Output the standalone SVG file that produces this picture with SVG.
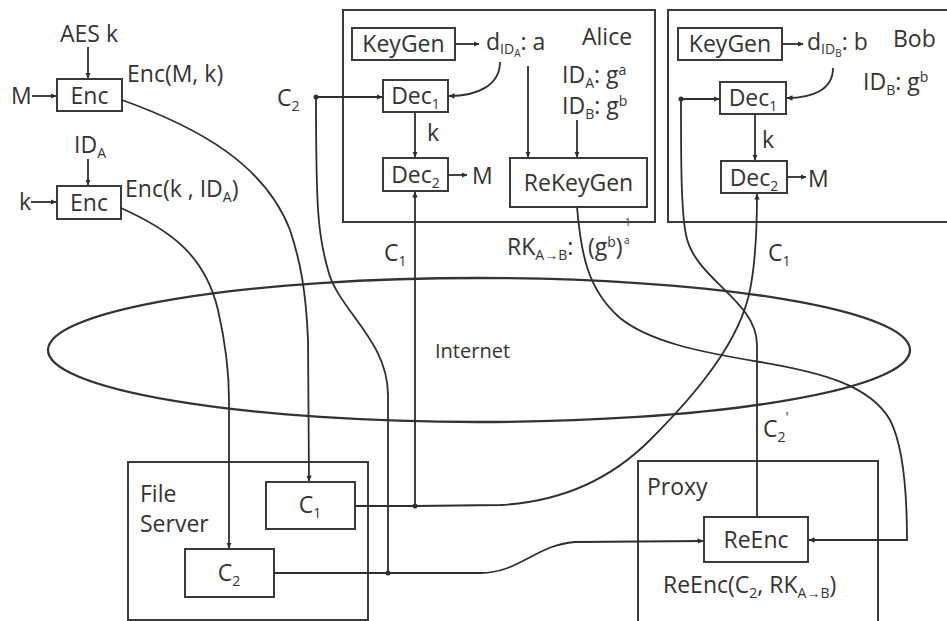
<svg xmlns="http://www.w3.org/2000/svg" width="947" height="621" viewBox="0 0 947 621">
<style>
.box{fill:none;stroke:#3a3a3a;stroke-width:2}
.ln{fill:none;stroke:#2e2e2e;stroke-width:1.8}
.t{font-family:"Open Sans","Noto Sans",sans-serif;font-size:23px;fill:#333}
.c{text-anchor:middle}
.s{font-size:14px}
.tiny{font-size:10px}
.inet{font-size:20px}
.dot{fill:#2e2e2e}
</style>
<defs>
<marker id="a" viewBox="0 0 6 6" refX="5.5" refY="3" markerWidth="6" markerHeight="6" markerUnits="userSpaceOnUse" orient="auto"><path d="M0,0.3 L6,3 L0,5.7 z" fill="#2e2e2e"/></marker>
</defs>
<rect width="947" height="621" fill="#fff"/>

<g id="internet">
<ellipse cx="479" cy="350" rx="431" ry="72" fill="none" stroke="#333" stroke-width="2.3"/>
<text class="t inet" x="435" y="358">Internet</text>
</g>

<g id="enc1">
<text class="t" x="60" y="42">AES k</text>
<text class="t" x="11" y="104">M</text>
<rect class="box" x="57" y="79" width="65" height="32"/>
<text class="t c" x="89.5" y="104">Enc</text>
<text class="t" x="127" y="82">Enc(M, k)</text>
</g>

<g id="enc2">
<text class="t" x="74" y="153">ID<tspan class="s" dy="5">A</tspan></text>
<text class="t" x="19" y="210">k</text>
<rect class="box" x="57" y="186" width="64" height="33"/>
<text class="t c" x="89" y="211">Enc</text>
<text class="t" x="125" y="197">Enc(k , ID<tspan class="s" dy="5">A</tspan><tspan dy="-5">)</tspan></text>
</g>

<g id="alice">
<rect class="box" x="343" y="10" width="312" height="212"/>
<rect class="box" x="352" y="28" width="103" height="32"/>
<text class="t c" x="403.5" y="52">KeyGen</text>
<text class="t" x="486" y="50">d<tspan class="s" dy="4">ID</tspan><tspan font-size="10" dy="3">A</tspan><tspan dy="-7">: a</tspan></text>
<text class="t" x="582" y="45">Alice</text>
<text class="t" x="562" y="83">ID<tspan class="s" dy="5">A</tspan><tspan dy="-5">: g</tspan><tspan class="s" dy="-8">a</tspan></text>
<text class="t" x="562" y="114">ID<tspan class="s" dy="5">B</tspan><tspan dy="-5">: g</tspan><tspan class="s" dy="-8">b</tspan></text>
<rect class="box" x="383" y="80" width="65" height="32"/>
<text class="t c" x="415.5" y="104">Dec<tspan class="s" dy="5">1</tspan></text>
<text class="t" x="427" y="141">k</text>
<rect class="box" x="383" y="158" width="65" height="33"/>
<text class="t c" x="415.5" y="183">Dec<tspan class="s" dy="5">2</tspan></text>
<text class="t" x="472" y="184">M</text>
<rect class="box" x="510" y="158" width="137" height="49"/>
<text class="t c" x="578.5" y="191">ReKeyGen</text>
</g>

<g id="bob">
<rect class="box" x="668" y="10" width="300" height="212"/>
<rect class="box" x="678" y="28" width="104" height="32"/>
<text class="t c" x="730" y="52">KeyGen</text>
<text class="t" x="807" y="50">d<tspan class="s" dy="4">ID</tspan><tspan font-size="10" dy="3">B</tspan><tspan dy="-7">: b</tspan></text>
<text class="t" x="893" y="47">Bob</text>
<text class="t" x="863" y="90">ID<tspan class="s" dy="5">B</tspan><tspan dy="-5">: g</tspan><tspan class="s" dy="-8">b</tspan></text>
<rect class="box" x="720" y="82" width="66" height="32"/>
<text class="t c" x="753" y="106">Dec<tspan class="s" dy="5">1</tspan></text>
<text class="t" x="762" y="148">k</text>
<rect class="box" x="721" y="161" width="66" height="32"/>
<text class="t c" x="754" y="186">Dec<tspan class="s" dy="5">2</tspan></text>
<text class="t" x="808" y="187">M</text>
</g>

<g id="fileserver">
<rect class="box" x="128" y="462" width="240" height="158"/>
<text class="t" x="140" y="502">File</text>
<text class="t" x="140" y="532">Server</text>
<rect class="box" x="266" y="482" width="89" height="47"/>
<text class="t c" x="310" y="513">C<tspan class="s" dy="5">1</tspan></text>
<rect class="box" x="185" y="549" width="89" height="48"/>
<text class="t c" x="229" y="581">C<tspan class="s" dy="5">2</tspan></text>
</g>

<g id="proxy">
<rect class="box" x="638" y="461" width="240" height="165"/>
<text class="t" x="647" y="495">Proxy</text>
<rect class="box" x="704" y="517" width="104" height="45"/>
<text class="t c" x="756" y="548">ReEnc</text>
<text class="t" x="663" y="593">ReEnc(C<tspan class="s" dy="5">2</tspan><tspan dy="-5">, RK</tspan><tspan class="s" dy="5">A→B</tspan><tspan dy="-5">)</tspan></text>
</g>

<g id="labels">
<text class="t" x="277" y="106">C<tspan class="s" dy="5">2</tspan></text>
<text class="t" x="384" y="261">C<tspan class="s" dy="5">1</tspan></text>
<text class="t" x="768" y="261">C<tspan class="s" dy="5">1</tspan></text>
<text class="t" x="763" y="437">C<tspan class="s" dy="5">2</tspan><tspan class="s" dy="-20">'</tspan></text>
<text class="t" x="507" y="255">RK<tspan class="s" dy="5">A→B</tspan><tspan dy="-5">:</tspan></text>
<text class="t" x="588" y="255">(g<tspan class="s" dy="-8">b</tspan><tspan dy="8">)</tspan></text>
<text class="t tiny" x="625" y="226">1</text>
<text class="t tiny" x="624" y="244">a</text>
</g>

<g id="connectors">
<path class="ln" d="M88,47 L88,78" marker-end="url(#a)"/>
<path class="ln" d="M32,96 L56,96" marker-end="url(#a)"/>
<path class="ln" d="M88,159 L88,185" marker-end="url(#a)"/>
<path class="ln" d="M31,202 L56,202" marker-end="url(#a)"/>
<path class="ln" d="M122,100 C200,128 265,165 290,230 C300,260 306,290 308,340 L309,481" marker-end="url(#a)"/>
<path class="ln" d="M121,208 C170,230 205,255 218,310 C226,345 229,370 229,400 L229,548" marker-end="url(#a)"/>
<path class="ln" d="M455,44 L479,44" marker-end="url(#a)"/>
<path class="ln" d="M500,62 C500,85 478,96 449,96" marker-end="url(#a)"/>
<path class="ln" d="M415,112 L415,157" marker-end="url(#a)"/>
<path class="ln" d="M448,175 L467,175" marker-end="url(#a)"/>
<path class="ln" d="M528,66 L528,157" marker-end="url(#a)"/>
<path class="ln" d="M577,120 L577,157" marker-end="url(#a)"/>
<path class="ln" d="M782,44 L803,44" marker-end="url(#a)"/>
<path class="ln" d="M833,68 C833,90 812,98 787,98" marker-end="url(#a)"/>
<path class="ln" d="M755,114 L755,160" marker-end="url(#a)"/>
<path class="ln" d="M787,177 L806,177" marker-end="url(#a)"/>
<path class="ln" d="M355,506 L415,506"/>
<path class="ln" d="M415,506 L415,192" marker-end="url(#a)"/>
<path class="ln" d="M415,506 L500,505 C560,502 610,480 650,440 C700,390 740,340 750,290 C756,260 757,230 757,194" marker-end="url(#a)"/>
<path class="ln" d="M274,573 L388,573"/>
<path class="ln" d="M388,573 L388,395 C388,340 338,310 328,270 C318,235 316,210 316,97 L382,97" marker-end="url(#a)"/>
<path class="ln" d="M388,573 L480,573 C520,573 535,545 575,542 L703,541" marker-end="url(#a)"/>
<path class="ln" d="M757,517 L757,345 C757,300 695,280 686,235 C681,210 681,160 681,99 L719,99" marker-end="url(#a)"/>
<path class="ln" d="M577,207 C581,255 588,290 620,318 C650,342 700,352 760,362 C820,372 870,385 890,420 C903,445 907,490 907,540 L809,540" marker-end="url(#a)"/>
<circle class="dot" cx="415" cy="506" r="2.5"/>
<circle class="dot" cx="388" cy="573" r="2.5"/>
<circle class="dot" cx="316" cy="97" r="2.5"/>
<circle class="dot" cx="681" cy="99" r="2.5"/>
</g>
</svg>
